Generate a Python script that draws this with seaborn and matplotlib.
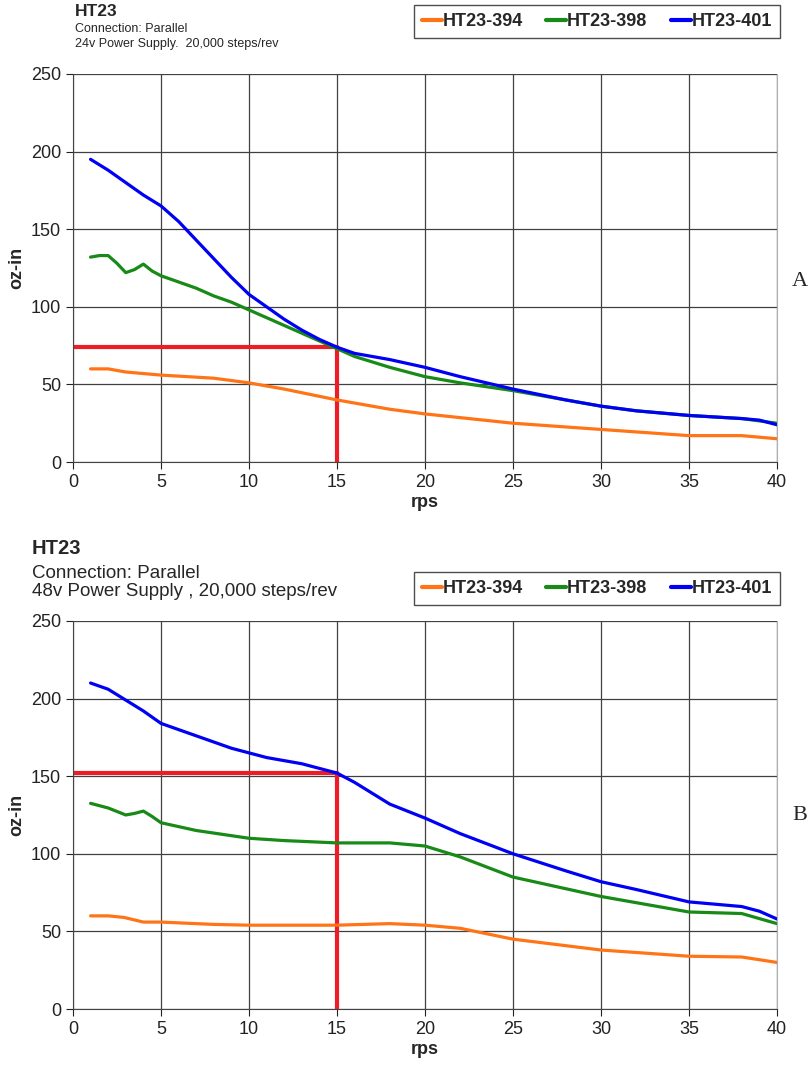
import pandas as pd
import matplotlib.pyplot as plt
import seaborn as sns

# Panel A: 24v supply
a_394_x = [1, 2, 3, 5, 8, 10, 12, 15, 18, 20, 25, 30, 35, 38, 40]
a_394_y = [60, 60, 58, 56, 54, 51, 47, 40, 34, 31, 25, 21, 17, 17, 15]
a_398_x = [1, 1.5, 2, 2.5, 3, 3.5, 4, 4.5, 5, 6, 7, 8, 9, 10, 11, 12, 13, 14, 15,
           16, 18, 20, 22, 25, 28, 30, 32, 35, 38, 40]
a_398_y = [132, 133, 133, 128, 122, 124, 127.5, 123, 120, 116, 112, 107, 103, 98, 93, 88, 83, 78, 73,
           68, 61, 55, 51, 46, 40, 36, 33, 30, 28, 25]
a_401_x = [1, 2, 3, 4, 5, 6, 7, 8, 9, 10, 11, 12, 13, 14, 15, 16, 18, 20, 22, 25,
           28, 30, 32, 35, 38, 39, 40]
a_401_y = [195, 188, 180, 172, 165, 155, 143, 131, 119, 108, 100, 92, 85, 79, 74, 70, 66, 61, 55, 47,
           40, 36, 33, 30, 28, 27, 24]

# Panel B: 48v supply
b_394_x = [1, 2, 2.9, 4, 5, 8, 10, 15, 18, 20, 22, 25, 30, 35, 38, 40]
b_394_y = [60, 60, 59, 56, 56, 54.5, 54, 54, 55, 54, 52, 45, 38, 34, 33.5, 30]
b_398_x = [1, 2, 3, 3.5, 4, 4.5, 5, 7, 10, 12, 15, 18, 20, 22, 25, 30, 35, 38, 40]
b_398_y = [132.5, 129.5, 125, 126, 127.5, 124, 120, 115, 110, 108.5, 107, 107, 105, 98, 85, 72.5, 62.5, 61.5, 55]
b_401_x = [1, 2, 3, 4, 5, 6, 7, 8, 9, 10, 11, 12, 13, 14, 15, 16, 17, 18, 20, 22, 25,
           28, 30, 32, 35, 37, 38, 39, 40]
b_401_y = [210, 206, 199, 192, 184, 180, 176, 172, 168, 165, 162, 160, 158, 155, 152, 146, 139, 132, 123, 113, 100,
           89, 82, 77, 69, 67, 66, 63, 58]

models = ['HT23-394', 'HT23-398', 'HT23-401']
colors = ['#ff7417', '#178a17', '#0000f5']
ref_a = 74   # oz-in at 15 rps, 24v
ref_b = 152  # oz-in at 15 rps, 48v
x_ticks = list(range(0, 41, 5))
y_ticks = list(range(0, 251, 50))
sub_a = ['Connection: Parallel', '24v Power Supply.  20,000 steps/rev']
sub_b = ['Connection: Parallel', '48v Power Supply , 20,000 steps/rev']


def to_frame(series):
    rows = []
    for name, xs, ys in series:
        rows += [{'rps': x, 'oz-in': y, 'model': name} for x, y in zip(xs, ys)]
    return pd.DataFrame(rows)


panels = [
    (to_frame([(models[0], a_394_x, a_394_y), (models[1], a_398_x, a_398_y),
               (models[2], a_401_x, a_401_y)]), ref_a, sub_a, 'A'),
    (to_frame([(models[0], b_394_x, b_394_y), (models[1], b_398_x, b_398_y),
               (models[2], b_401_x, b_401_y)]), ref_b, sub_b, 'B'),
]

sns.set_style('white')
plt.rcParams['font.family'] = ['Liberation Sans', 'DejaVu Sans']

H = 1078
fig = plt.figure(figsize=(8.08, 10.78), dpi=100)
boxes = [[0.0903, 0.5714, 0.8713, 0.36], [0.0903, 0.064, 0.8713, 0.36]]
# per-panel header layout (pixel positions from the top)
text_x = [75, 32]
title_c = [12, 548]
sub_c = [[29.5, 44.5], [573, 591]]
title_fs = [12.5, 14.5]
sub_fs = [9, 13.5]
leg_top = [5, 572]
side_c = [282, 815]

for i, (df, ref, sub, tag) in enumerate(panels):
    ax = fig.add_axes(boxes[i])
    sns.lineplot(data=df, x='rps', y='oz-in', hue='model', palette=colors,
                 linewidth=2.3, ax=ax, legend=False, sort=True)
    # red reference lines at 15 rps
    ax.plot([0, 15], [ref, ref], color='#ee1c25', linewidth=3, zorder=1)
    ax.plot([15, 15], [0, ref], color='#ee1c25', linewidth=3, zorder=1)

    ax.set_xlim(0, 40)
    ax.set_ylim(0, 250)
    ax.set_xticks(x_ticks)
    ax.set_yticks(y_ticks)
    ax.grid(True, color='#404040', linewidth=0.9)
    ax.set_axisbelow(True)
    ax.spines['top'].set_visible(False)
    ax.spines['right'].set_color('#b0b0b0')
    ax.spines['left'].set_color('#444444')
    ax.spines['bottom'].set_color('#444444')
    ax.tick_params(axis='both', length=5, direction='out', labelsize=13,
                   colors='#222222', left=True, bottom=True)
    ax.set_xlabel('rps', fontsize=13, weight='bold', labelpad=2)
    ax.set_ylabel('oz-in', fontsize=13, weight='bold')

    fig.text(text_x[i] / 808, 1 - title_c[i] / H, 'HT23', fontsize=title_fs[i], weight='bold',
             va='center', ha='left')
    for line, yc in zip(sub, sub_c[i]):
        fig.text(text_x[i] / 808, 1 - yc / H, line, fontsize=sub_fs[i], va='center', ha='left')
    fig.text(792 / 808, 1 - side_c[i] / H, tag, fontsize=16,
             family=['Liberation Serif'], va='center', ha='left')

    handles = [plt.Line2D([], [], color=c, linewidth=3) for c in colors]
    leg = fig.legend(handles, models, loc='upper right', bbox_to_anchor=(780 / 808, 1 - leg_top[i] / H),
                     borderaxespad=0, ncol=3, frameon=True, fancybox=False, edgecolor='#222222',
                     handlelength=1.1, handletextpad=0.05, columnspacing=1.3,
                     borderpad=0.45, prop={'weight': 'bold', 'size': 13})
    leg.get_frame().set_linewidth(1.0)

plt.savefig('out.png', dpi=100)
